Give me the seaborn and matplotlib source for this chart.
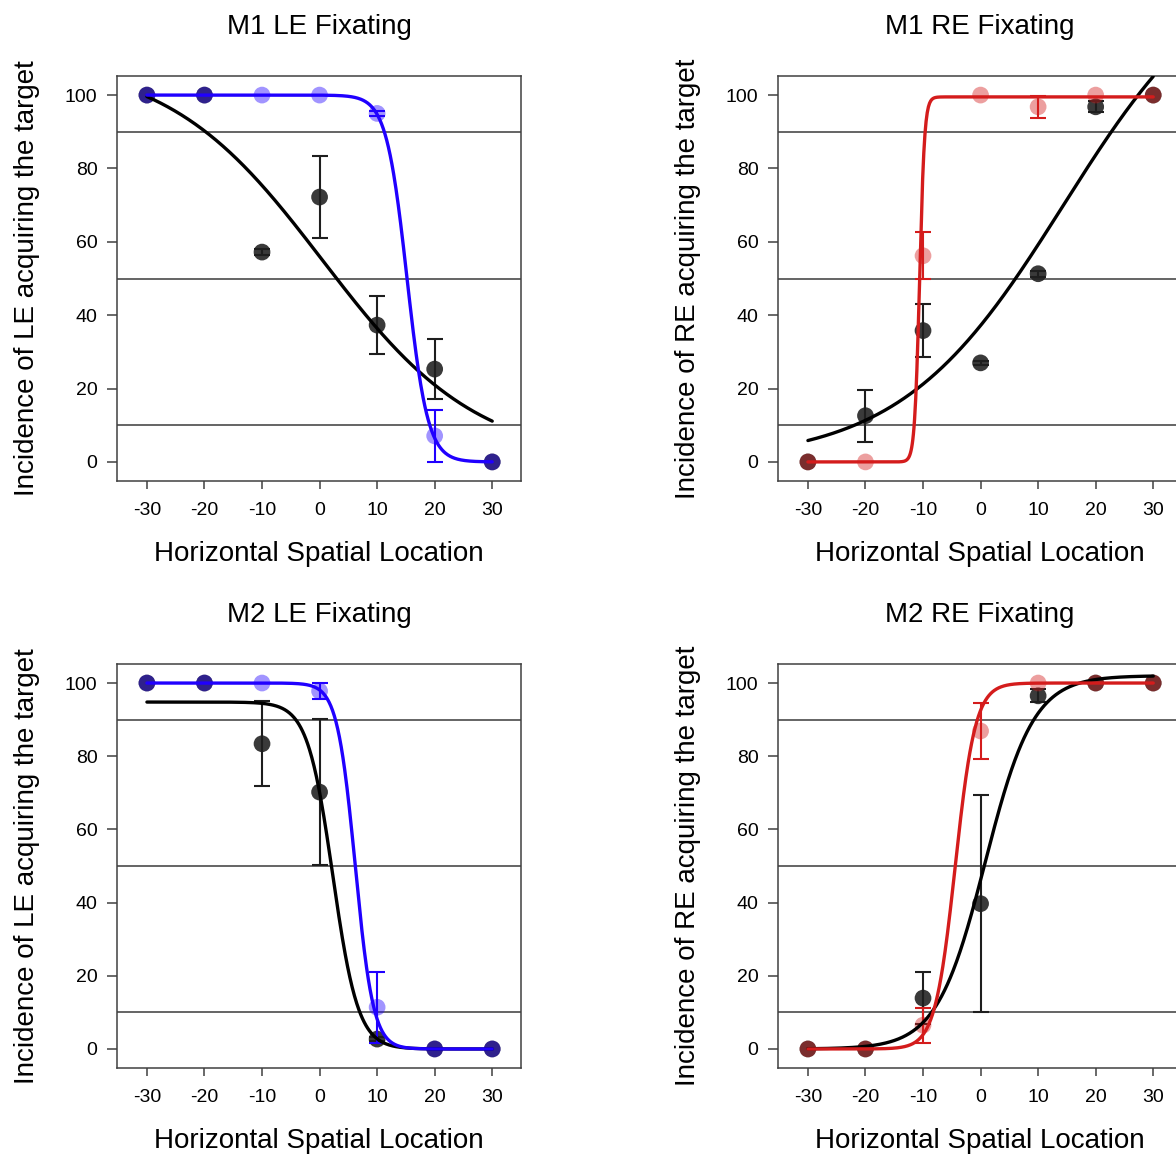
import numpy as np
import pandas as pd
import matplotlib
matplotlib.use("Agg")
import matplotlib.pyplot as plt
import seaborn as sns

# ---------------- data ----------------
locations = [-30, -20, -10, 0, 10, 20, 30]

# M1, LE fixating
m1_le_black = [100, 100, 57.2, 72.2, 37.3, 25.3, 0]
m1_le_black_err = [0, 0, 0.8, 11.2, 8.0, 8.2, 0]
m1_le_blue = [100, 100, 100, 100, 95.0, 7.1, 0]
m1_le_blue_err = [0, 0, 0, 0, 0.6, 7.1, 0]

# M1, RE fixating
m1_re_black = [0, 12.6, 35.8, 27.0, 51.3, 96.8, 100]
m1_re_black_err = [0, 7.1, 7.2, 0.5, 0.8, 1.5, 0]
m1_re_red = [0, 0, 56.2, 100, 96.8, 100, 100]
m1_re_red_err = [0, 0, 6.4, 0, 3.0, 0, 0]

# M2, LE fixating
m2_le_black = [100, 100, 83.4, 70.2, 2.7, 0, 0]
m2_le_black_err = [0, 0, 11.6, 20.0, 0.5, 0, 0]
m2_le_blue = [100, 100, 100, 97.8, 11.4, 0, 0]
m2_le_blue_err = [0, 0, 0, 2.3, 9.7, 0, 0]

# M2, RE fixating
m2_re_black = [0, 0, 13.9, 39.7, 96.5, 100, 100]
m2_re_black_err = [0, 0, 7.0, 29.6, 1.8, 0, 0]
m2_re_red = [0, 0, 6.5, 86.9, 100, 100, 100]
m2_re_red_err = [0, 0, 4.8, 7.7, 0, 0, 0]

# sigmoid fit parameters: [bottom, top, x50, slope width]  (negative width = falling)
m1_le_black_fit = [0, 110, 0.5, -13.5]
m1_le_blue_fit = [0, 100, 15.2, -1.8]
m1_re_black_fit = [0, 140, 14.4, 14.16]
m1_re_red_fit = [0, 99.5, -10.6, 0.43]
m2_le_black_fit = [0, 94.8, 2.3, -2.2]
m2_le_blue_fit = [0, 100, 6.2, -1.57]
m2_re_black_fit = [0, 102, 0.8, 4.2]
m2_re_red_fit = [0, 100, -4.4, 1.75]

titles = ["M1 LE Fixating", "M1 RE Fixating", "M2 LE Fixating", "M2 RE Fixating"]
ylabels = ["Incidence of LE acquiring the target", "Incidence of RE acquiring the target",
           "Incidence of LE acquiring the target", "Incidence of RE acquiring the target"]
xlabel = "Horizontal Spatial Location"
xticks = [-30, -20, -10, 0, 10, 20, 30]
yticks = [0, 20, 40, 60, 80, 100]
ref_levels = [10, 50, 90]

# ---------------- style ----------------
sns.set_theme(style="ticks")
plt.rcParams['font.family'] = ['Liberation Sans', 'DejaVu Sans']
plt.rcParams['axes.unicode_minus'] = False

BLUE = "#2000ff"
RED = "#d41c1c"
BLACK = "#1e1e1e"
SPINE = "#404040"


def sigmoid(x, p):
    bottom, top, x50, w = p
    return bottom + (top - bottom) / (1.0 + np.exp(-(x - x50) / w))


panels = [
    (m1_le_black, m1_le_black_err, m1_le_black_fit, m1_le_blue, m1_le_blue_err, m1_le_blue_fit, BLUE),
    (m1_re_black, m1_re_black_err, m1_re_black_fit, m1_re_red, m1_re_red_err, m1_re_red_fit, RED),
    (m2_le_black, m2_le_black_err, m2_le_black_fit, m2_le_blue, m2_le_blue_err, m2_le_blue_fit, BLUE),
    (m2_re_black, m2_re_black_err, m2_re_black_fit, m2_re_red, m2_re_red_err, m2_re_red_fit, RED),
]

W, H = 1176, 1159
fig = plt.figure(figsize=(W / 100, H / 100), dpi=100)
fig.patch.set_facecolor("white")

ax_w = 404 / W
positions = [
    [117 / W, 1 - 481 / H, ax_w, 405 / H],
    [778 / W, 1 - 481 / H, ax_w, 405 / H],
    [117 / W, 1 - 1068 / H, ax_w, 404 / H],
    [778 / W, 1 - 1068 / H, ax_w, 404 / H],
]

xs_curve = np.linspace(-30, 30, 600)
loc = np.array(locations, dtype=float)

for i, (bk, bk_err, bk_fit, col, col_err, col_fit, ccol) in enumerate(panels):
    ax = fig.add_axes(positions[i])
    ax.set_facecolor("white")

    for lvl in ref_levels:
        ax.axhline(lvl, color="#3a3a3a", lw=1.1, zorder=1)

    bk = np.array(bk, dtype=float)
    bk_err = np.array(bk_err, dtype=float)
    col = np.array(col, dtype=float)
    col_err = np.array(col_err, dtype=float)

    m = bk_err > 0
    ax.errorbar(loc[m], bk[m], yerr=bk_err[m], fmt="none", ecolor=BLACK,
                elinewidth=1.5, capsize=6, capthick=1.5, zorder=2)
    sns.scatterplot(x=loc, y=bk, ax=ax, s=145, color=BLACK, alpha=0.88,
                    edgecolor="none", zorder=3, legend=False)
    sns.scatterplot(x=loc, y=col, ax=ax, s=145, color=ccol, alpha=0.42,
                    edgecolor="none", zorder=4, legend=False)
    m = col_err > 0
    ax.errorbar(loc[m], col[m], yerr=col_err[m], fmt="none", ecolor=ccol,
                elinewidth=1.5, capsize=6, capthick=1.5, zorder=5)

    df_b = pd.DataFrame({"x": xs_curve, "y": sigmoid(xs_curve, bk_fit)})
    df_c = pd.DataFrame({"x": xs_curve, "y": sigmoid(xs_curve, col_fit)})
    sns.lineplot(data=df_b, x="x", y="y", ax=ax, color="black", lw=2.4,
                 zorder=6, estimator=None, sort=False)
    sns.lineplot(data=df_c, x="x", y="y", ax=ax, color=ccol, lw=2.4,
                 zorder=7, estimator=None, sort=False)

    ax.set_xlim(-35.2, 35.0)
    ax.set_ylim(-5.2, 105.2)
    ax.set_xticks(xticks)
    ax.set_yticks(yticks)
    ax.set_xticklabels([str(t) for t in xticks])
    ax.set_yticklabels([str(t) for t in yticks])
    ax.tick_params(axis="x", direction="out", length=6, width=1.1, color=SPINE,
                   labelsize=14, pad=9, labelcolor="black")
    ax.tick_params(axis="y", direction="out", length=7, width=1.1, color=SPINE,
                   labelsize=14, pad=7, labelcolor="black")
    for s in ax.spines.values():
        s.set_visible(True)
        s.set_color(SPINE)
        s.set_linewidth(1.1)

    ax.set_title(titles[i], fontsize=20, pad=30, color="black")
    ax.set_xlabel(xlabel, fontsize=20, labelpad=16, color="black")
    ax.set_ylabel(ylabels[i], fontsize=20, labelpad=18, color="black")

fig.savefig("out.png", dpi=100, facecolor="white")
